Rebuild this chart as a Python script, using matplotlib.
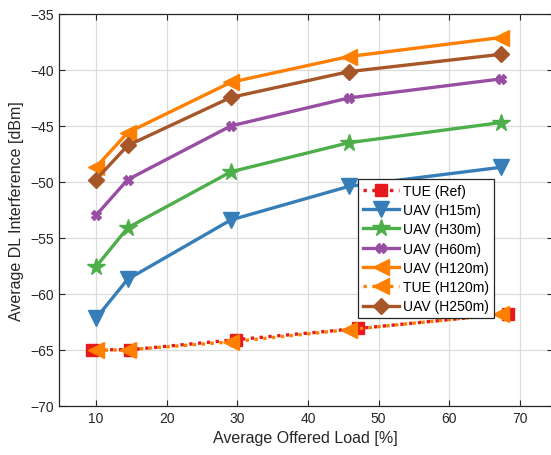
import matplotlib
matplotlib.use("Agg")
import matplotlib.pyplot as plt
import numpy as np

plt.rcParams['font.family'] = ['Liberation Sans', 'DejaVu Sans']

# offered load [%] and DL interference [dBm]
load_uav = [10.0, 14.5, 29.1, 45.8, 67.3]
load_tue = [9.5, 14.85, 29.8, 47.1, 68.3]

tue_ref = [-65.0, -65.0, -64.1, -63.1, -61.8]
uav_h15 = [-62.2, -58.7, -53.4, -50.4, -48.7]
uav_h30 = [-57.6, -54.1, -49.1, -46.5, -44.7]
uav_h60 = [-53.0, -49.8, -45.0, -42.5, -40.8]
uav_h120 = [-48.7, -45.6, -41.1, -38.8, -37.1]
tue_h120 = [-65.05, -65.0, -64.3, -63.2, -61.85]
uav_h250 = [-49.8, -46.75, -42.45, -40.15, -38.6]

fig = plt.figure(figsize=(5.51, 4.56), dpi=100)
# right spine sits just past the image edge, as in the reference
ax = fig.add_axes([58.5 / 551, 49.3 / 456, 494 / 551, 391.7 / 456])

lw = 2.4
ax.plot(load_tue, tue_ref, ':', color='#e41a1c', lw=lw, marker='s', ms=8, label='TUE (Ref)')
ax.plot(load_uav, uav_h15, '-', color='#377eb8', lw=lw, marker='v', ms=11, label='UAV (H15m)')
ax.plot(load_uav, uav_h30, '-', color='#4daf4a', lw=lw, marker='*', ms=13, label='UAV (H30m)')
ax.plot(load_uav, uav_h60, '-', color='#984ea3', lw=lw, marker='X', ms=6.5, label='UAV (H60m)')
ax.plot(load_uav, uav_h120, '-', color='#ff7f00', lw=lw, marker='<', ms=11, label='UAV (H120m)')
ax.plot(load_uav, tue_h120, ':', color='#ff7f00', lw=lw, marker='<', ms=11, label='TUE (H120m)')
ax.plot(load_uav, uav_h250, '-', color='#a65628', lw=lw, marker='D', ms=8.5, label='UAV (H250m)')

ax.set_xlim(4.71, 74.6)
ax.set_ylim(-70, -35)
ax.set_xticks(np.arange(10, 71, 10))
ax.set_yticks(np.arange(-70, -34, 5))
ax.grid(True, color='#dcdcdc', lw=0.9)
ax.set_axisbelow(True)
ax.tick_params(direction='in', length=4, labelsize=10, colors='#262626', top=True, right=True)
for s in ax.spines.values():
    s.set_color('#262626')
    s.set_linewidth(0.9)

ax.set_xlabel('Average Offered Load [%]', fontsize=11.5, color='#262626')
ax.set_ylabel('Average DL Interference [dBm]', fontsize=11.5, color='#262626')

leg = ax.legend(loc='upper left', bbox_to_anchor=(0.606, 0.579), borderaxespad=0,
                fontsize=10, handlelength=2.6, handletextpad=0.3, labelspacing=0.38,
                borderpad=0.35, fancybox=False, framealpha=1, edgecolor='#262626')
leg.get_frame().set_linewidth(0.9)

fig.savefig('out.png', dpi=100)
